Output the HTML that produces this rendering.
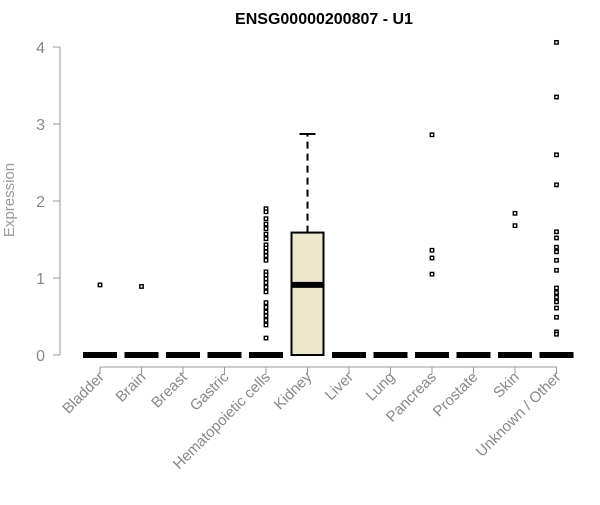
<!DOCTYPE html>
<html><head><meta charset="utf-8"><style>
body{margin:0;background:#fff;font-family:"Liberation Sans",Arial,sans-serif}
</style></head><body>
<svg id="chart" width="600" height="500" xmlns="http://www.w3.org/2000/svg">
<text x="324" y="24" text-anchor="middle" font-size="16" font-weight="bold" font-family="Liberation Sans, sans-serif">ENSG00000200807 - U1</text>
<text transform="translate(14,200) rotate(-90)" text-anchor="middle" font-size="15" fill="#999">Expression</text>
<g id="axes"></g><g id="marks"></g>
</svg>
<script>
const categories=["Bladder","Brain","Breast","Gastric","Hematopoietic cells","Kidney","Liver","Lung","Pancreas","Prostate","Skin","Unknown / Other"];
const yTicks=[0,1,2,3,4];
const medians=[0,0,0,0,0,0.91,0,0,0,0,0,0];
const q1s=[0,0,0,0,0,0,0,0,0,0,0,0];
const q3s=[0,0,0,0,0,1.59,0,0,0,0,0,0];
const whiskerHigh=[0,0,0,0,0,2.87,0,0,0,0,0,0];
const outliers=[[0.91],[0.89],[],[],
[1.9,1.86,1.77,1.7,1.64,1.57,1.51,1.43,1.39,1.34,1.29,1.23,1.08,1.04,0.99,0.94,0.88,0.82,0.68,0.62,0.56,0.51,0.45,0.39,0.22],
[],[],[],[2.86,1.36,1.26,1.05],[],[1.84,1.68],
[4.06,3.35,2.6,2.21,1.6,1.52,1.4,1.34,1.23,1.1,0.87,0.81,0.75,0.69,0.61,0.49,0.3,0.27]];
const NS="http://www.w3.org/2000/svg";
const x=i=>100+41.5*i;
const y=v=>355-77*v;
function mk(t,a,p){const e=document.createElementNS(NS,t);for(const k in a)e.setAttribute(k,a[k]);p.appendChild(e);return e;}
const ax=document.getElementById('axes'),mg=document.getElementById('marks');
const yl=mk('line',{x1:60,x2:60,y1:y(0),y2:y(4),stroke:'#999'},ax);


yTicks.forEach(v=>{
 const t=mk('line',{x1:53,x2:60,y1:y(v),y2:y(v),stroke:'#999'},ax);
 
 
 const l=mk('text',{x:45,y:y(v)+6,'text-anchor':'end','font-size':16,fill:'#888'},ax);
 l.textContent=v;
 
 
});
const xl=mk('line',{x1:x(0),x2:x(11),y1:367,y2:367,stroke:'#999'},ax);


categories.forEach((c,i)=>{
 const t=mk('line',{x1:x(i),x2:x(i),y1:367,y2:374,stroke:'#999'},ax);
 
 
 const l=mk('text',{transform:`translate(${x(i)+5},${378}) rotate(-45)`,'text-anchor':'end','font-size':15,fill:'#888'},ax);
 l.textContent=c;
 
 
 const g=mk('g',{},mg);
 
 
 const cx=x(i);
 if(q3s[i]>q1s[i]){
  mk('line',{x1:cx,x2:cx,y1:y(q3s[i]),y2:y(whiskerHigh[i]),stroke:'#000','stroke-width':2,'stroke-dasharray':'7,5'},g);
  mk('line',{x1:cx-8,x2:cx+8,y1:y(whiskerHigh[i]),y2:y(whiskerHigh[i]),stroke:'#000','stroke-width':2},g);
  mk('rect',{x:cx-16,y:y(q3s[i]),width:32,height:y(q1s[i])-y(q3s[i]),fill:'#ede7cd',stroke:'#000','stroke-width':2},g);
 }
 mk('line',{x1:cx-17,x2:cx+17,y1:y(medians[i]),y2:y(medians[i]),stroke:'#000','stroke-width':6},g);
 outliers[i].forEach(v=>{
  const p=mk('rect',{x:cx-1.7,y:y(v)-1.7,width:3.4,height:3.4,fill:'#fff',stroke:'#000','stroke-width':1.4},g);
  
  
 });
});
</script>
</body></html>
